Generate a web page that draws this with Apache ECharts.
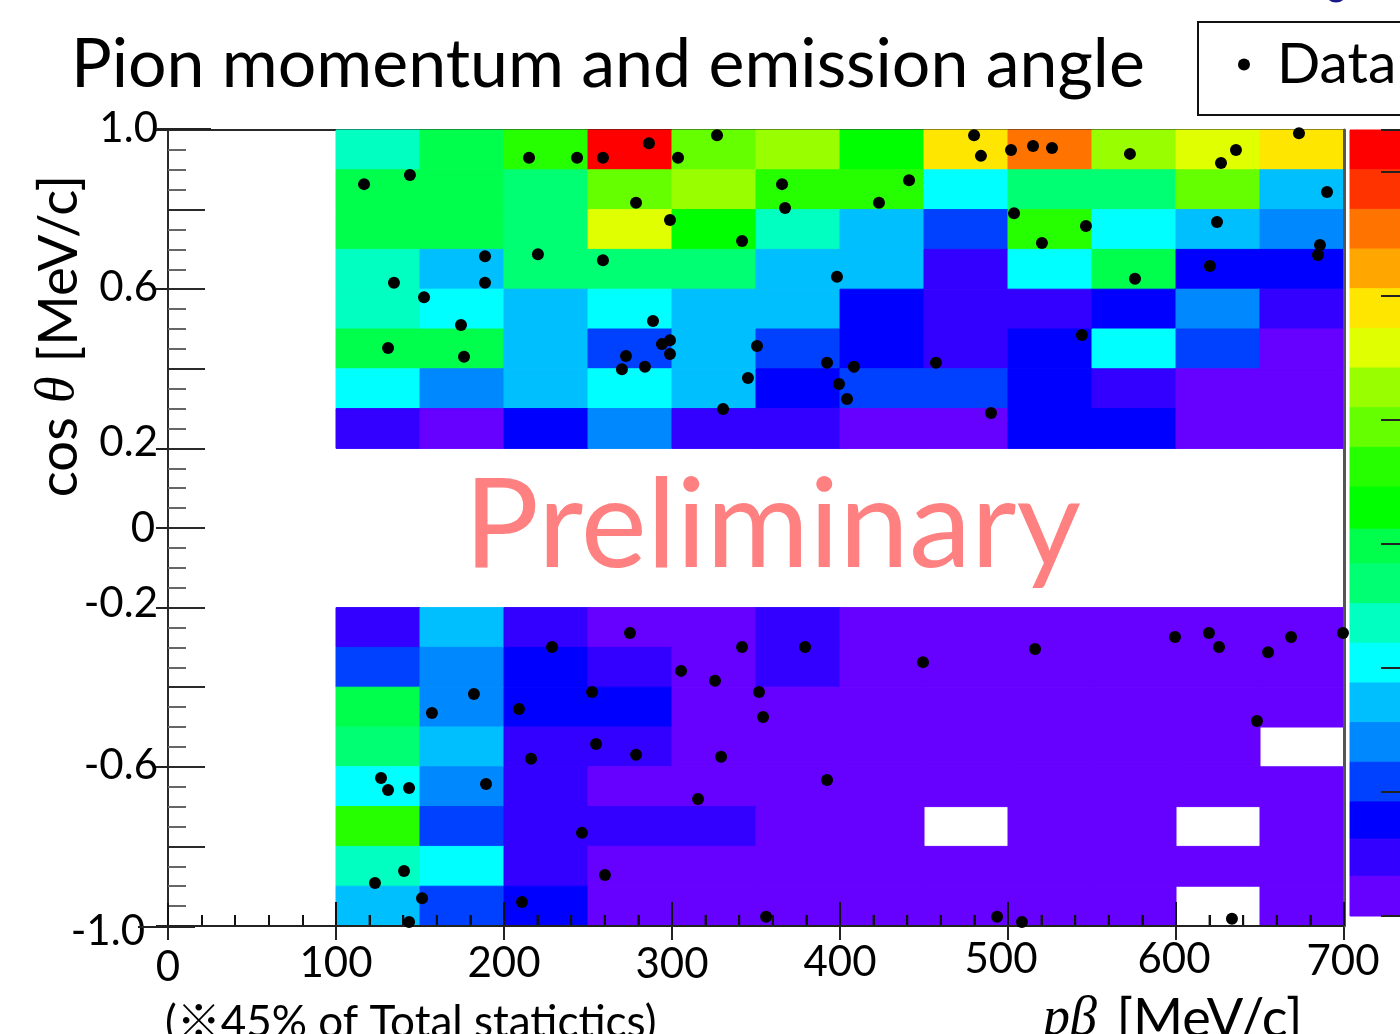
<!DOCTYPE html>
<html>
<head>
<meta charset="utf-8">
<style>html,body{margin:0;padding:0;background:#fff;overflow:hidden}#chart{width:1400px;height:1034px}</style>
<script src="https://cdn.jsdelivr.net/npm/echarts@6/dist/echarts.min.js"></script>
</head>
<body>
<div id="chart"></div>
<script>
const FONT = 'Lato, "Noto Sans CJK JP", sans-serif';
const titleText = 'Pion momentum and emission angle';
const legendName = 'Data';
const watermark = 'Preliminary';
const footnote = '(※45% of Total statictics)';

// Rainbow palette, highest band first
const palette = ['#ff0000','#ff3300','#ff7300','#ffa600','#ffe600','#e0ff00','#99ff00','#66ff00','#26ff00','#00ff00',
                 '#00ff4d','#00ff73','#00ffc0','#00ffff','#00bfff','#0088ff','#0040ff','#0000ff','#3300ff','#6600ff'];
// colour-bar band edges on the z scale, top to bottom
const zEdges = [31.7,30.1,28.5,26.9,25.3,23.7,22.1,20.5,18.9,17.3,15.6,14.2,12.6,11.0,9.4,7.8,6.2,4.6,3.1,1.6,0];

const xEdges = [100,150,200,250,300,350,400,450,500,550,600,650,700];
const yTopEdges = [1.0,0.9,0.8,0.7,0.6,0.5,0.4,0.3,0.2];
const yBottomEdges = [-0.2,-0.3,-0.4,-0.5,-0.6,-0.7,-0.8,-0.9,-1.0];

// Cell values as palette band index; null = empty bin
const topRows = [
  [12,10, 8, 0, 7, 6, 9, 4, 2, 6, 5, 4],
  [10,10,11, 7, 6, 8, 8,13,11,11, 7,14],
  [10,10,11, 5, 9,12,14,16, 8,13,14,15],
  [12,14,11,11,11,14,14,18,13,10,17,17],
  [12,13,14,13,14,14,17,18,18,17,15,18],
  [10,10,14,16,14,16,17,18,17,13,16,19],
  [13,15,14,13,14,17,16,16,17,18,19,19],
  [18,19,17,15,18,18,19,19,17,17,19,19]
];
const bottomRows = [
  [18,14,18,19,19,18,19,19,19,19,19,19],
  [16,15,17,18,19,18,19,19,19,19,19,19],
  [10,15,17,17,19,19,19,19,19,19,19,19],
  [11,14,18,18,19,19,19,19,19,19,19,null],
  [13,15,18,19,19,19,19,19,19,19,19,19],
  [ 8,16,18,18,18,19,19,null,19,19,null,19],
  [12,13,18,19,19,19,19,19,19,19,19,19],
  [14,16,17,19,19,19,19,19,19,19,null,19]
];

const points = [
 [116.7,.864],[144.0,.887],[214.9,.930],[243.5,.930],[258.9,.930],[286.3,.967],[303.6,.930],[326.8,.987],[479.8,.987],[483.9,.935],
 [501.8,.950],[514.9,.960],[526.2,.955],[572.6,.940],[626.8,.917],[635.7,.950],[673.2,.992],[689.9,.844],[365.5,.864],[367.3,.804],
 [423.2,.817],[441.1,.874],[278.6,.817],[298.8,.774],[341.7,.721],[503.6,.791],[520.2,.716],[546.4,.759],[624.4,.769],[685.7,.711],
 [684.5,.686],[188.7,.683],[220.2,.688],[258.9,.673],[134.5,.616],[188.7,.616],[398.2,.631],[575.6,.626],[620.2,.658],[152.4,.580],
 [288.7,.520],[174.4,.510],[298.8,.472],[294.0,.462],[272.6,.432],[298.8,.437],[350.6,.457],[131.0,.452],[176.2,.430],[544.0,.485],
 [392.3,.415],[408.3,.405],[457.1,.415],[270.2,.399],[283.9,.405],[345.2,.377],[399.4,.362],[404.2,.324],[330.4,.299],[489.9,.289],
 [275.0,-.264],[228.6,-.299],[341.7,-.299],[379.2,-.299],[305.4,-.359],[325.6,-.384],[449.4,-.337],[516.1,-.304],[599.4,-.274],[619.6,-.264],
 [625.6,-.299],[654.8,-.312],[668.5,-.274],[699.4,-.264],[182.1,-.417],[157.1,-.465],[252.4,-.412],[208.9,-.455],[351.8,-.412],[354.2,-.475],
 [648.2,-.485],[254.8,-.543],[278.6,-.570],[216.1,-.580],[329.2,-.575],[126.8,-.628],[131.0,-.658],[143.5,-.653],[189.3,-.643],[392.3,-.633],
 [315.5,-.681],[246.4,-.766],[140.5,-.862],[123.2,-.892],[260.1,-.872],[151.2,-.930],[210.7,-.940],[143.5,-.990],[356.0,-.977],[493.5,-.977],
 [508.3,-.990],[633.3,-.982]
];

const xLabelValues = [0,100,200,300,400,500,600,700];
const yLabelValues = [1,0.6,0.2,0,-0.2,-0.6,-1];
const xMinorValues = [120,140,160,180,220,240,260,280,320,340,360,380,420,440,460,480,520,540,560,580,620,640,660,680];
const xMajorValues = [100,200,300,400,500,600,700];

// Build the [x0,x1,y0,y1,band] table
const cells = [];
function addRows(rows, yEdges){
  rows.forEach((row,r)=>row.forEach((band,c)=>{
    if(band!==null) cells.push([xEdges[c],xEdges[c+1],yEdges[r],yEdges[r+1],band]);
  }));
}
addRows(topRows,yTopEdges); addRows(bottomRows,yBottomEdges);
const barCells = palette.map((c,i)=>[0,1,zEdges[i],zEdges[i+1],i]);
const tickRows = xMinorValues.map(v=>[v,11]).concat(xMajorValues.map(v=>[v,24]));

function rectItem(params,api){
  const a=api.coord([api.value(0),api.value(2)]), b=api.coord([api.value(1),api.value(3)]);
  return {type:'rect',shape:{x:a[0],y:a[1],width:b[0]-a[0],height:b[1]-a[1]},
    style:{fill:palette[api.value(4)],stroke:palette[api.value(4)],lineWidth:1}};
}
function tickItem(params,api){
  const p=api.coord([api.value(0),-1]);
  return {type:'line',shape:{x1:p[0],y1:p[1],x2:p[0],y2:p[1]-api.value(1)},style:{stroke:'#111',lineWidth:2}};
}
function baselineItem(params,api){
  const a=api.coord([api.value(0),-1]), b=api.coord([api.value(1),-1]);
  return {type:'line',shape:{x1:a[0],y1:a[1],x2:b[0],y2:b[1]},style:{stroke:'#222',lineWidth:2}};
}

// hand-placed look of the original tick labels
const labelFont={fontFamily:FONT,fontSize:42,color:'#000'};
const xRich={
  x0:{...labelFont,padding:[8,0,0,0]}, x100:{...labelFont,padding:[4,0,0,0]}, x200:{...labelFont,padding:[4,0,0,0]},
  x300:{...labelFont,padding:[5,0,0,0]}, x400:{...labelFont,padding:[3,0,0,0]}, x500:{...labelFont,padding:[0,14,0,0]},
  x600:{...labelFont,padding:[0,4,0,0]}, x700:{...labelFont,padding:[2,2,0,0]}
};
const yRich={
  a:{...labelFont,padding:[0,0,4,0]}, b:{...labelFont,padding:[0,0,4,0]}, c:{...labelFont,padding:[0,0,12,0]},
  d:{...labelFont,padding:[0,3,0,0]}, e:{...labelFont,padding:[0,0,8,0]}, f:{...labelFont,padding:[0,0,2,0]},
  g:{...labelFont,padding:[10,13,0,0]}
};
const yKeys=['a','b','c','d','e','f','g'];

const ink='#2a2a2a';
const plotGrid={left:168,right:56,top:130,height:796};
const chart=echarts.init(document.getElementById('chart'));
chart.setOption({
  animation:false,
  backgroundColor:'#fff',
  textStyle:{fontFamily:FONT},
  title:[
    {text:titleText,left:66,top:26,textStyle:{fontFamily:FONT,fontSize:68,fontWeight:'normal',color:'#000'}},
    {text:watermark,left:459,top:459,textStyle:{fontFamily:FONT,fontSize:125,fontWeight:'normal',color:'#ff8080'}},
    {text:footnote,left:160,top:996,textStyle:{fontFamily:FONT,fontSize:44,fontWeight:'normal',color:'#000'}},
    {text:'{i|pβ} {t|[MeV/c]}',left:1038,top:988,textStyle:{fontWeight:'normal',rich:{
      i:{fontFamily:'"Liberation Serif",serif',fontStyle:'italic',fontWeight:'normal',fontSize:54,color:'#000'},
      t:{fontFamily:FONT,fontWeight:'normal',fontSize:54,color:'#000',padding:[0,0,0,15]}}}}
  ],
  legend:{data:[{name:legendName,icon:'circle'}],left:1238,top:36,itemWidth:12,itemHeight:12,
    selectedMode:false,padding:0,
    textStyle:{fontFamily:FONT,fontSize:57,color:'#000',padding:[0,0,0,22]}},
  grid:[plotGrid,plotGrid,{left:1350,right:0,top:130,height:786}],
  xAxis:[
    {gridIndex:0,type:'value',min:0,max:700,interval:100,position:'bottom',z:5,
      axisLine:{show:true,onZero:false,lineStyle:{color:'#222',width:2}},
      axisTick:{show:true,inside:true,length:23,lineStyle:{color:'#111',width:2}},
      minorTick:{show:true,splitNumber:5,length:11,lineStyle:{color:'#111',width:2}},
      axisLabel:{show:false},splitLine:{show:false}},
    {gridIndex:0,type:'value',min:0,max:700,position:'top',z:-5,
      axisLine:{show:true,onZero:false,lineStyle:{color:ink,width:2}},
      axisTick:{show:false},axisLabel:{show:false},splitLine:{show:false}},
    {gridIndex:1,type:'value',min:0,max:700,interval:100,position:'bottom',z:5,
      axisLine:{show:false,onZero:false},
      axisTick:{show:true,inside:false,length:14,customValues:xLabelValues,lineStyle:{color:'#222',width:2}},
      axisLabel:{show:true,margin:12,customValues:xLabelValues,hideOverlap:false,
        formatter:v=>'{x'+v+'|'+v+'}',rich:xRich},
      splitLine:{show:false}},
    {gridIndex:2,type:'value',min:0,max:1,show:false}
  ],
  yAxis:[
    {gridIndex:0,type:'value',min:-1,max:1,interval:0.2,position:'left',z:5,
      axisLine:{show:true,onZero:false,lineStyle:{color:ink,width:2}},
      axisTick:{show:true,inside:true,length:37,lineStyle:{color:ink,width:2}},
      minorTick:{show:true,splitNumber:4,length:18,lineStyle:{color:'#666',width:2}},
      axisLabel:{show:false},splitLine:{show:false}},
    {gridIndex:0,type:'value',min:-1,max:1,position:'right',zlevel:1,
      axisLine:{show:true,onZero:false,lineStyle:{color:'#555',width:3}},
      axisTick:{show:false},axisLabel:{show:false},splitLine:{show:false}},
    {gridIndex:1,type:'value',min:-1,max:1,interval:0.2,position:'left',z:5,
      axisLine:{show:false,onZero:false},
      axisTick:{show:true,inside:false,length:12,customValues:yLabelValues,lineStyle:{color:'#222',width:2}},
      axisLabel:{show:true,margin:10,customValues:yLabelValues,hideOverlap:false,rich:yRich,
        formatter:v=>{
          const i=yLabelValues.findIndex(t=>Math.abs(t-v)<1e-9);
          return '{'+yKeys[i]+'|'+(Math.abs(v)<1e-9?'0':v.toFixed(1))+'}';
        }},
      splitLine:{show:false}},
    {gridIndex:2,type:'value',min:0,max:31.7,interval:5,position:'right',zlevel:1,
      axisLine:{show:false,onZero:false},
      axisTick:{show:true,inside:true,length:19,lineStyle:{color:'#222',width:2}},
      axisLabel:{show:false},splitLine:{show:false}}
  ],
  series:[
    {type:'custom',name:'counts',xAxisIndex:0,yAxisIndex:0,data:cells,renderItem:rectItem,silent:true,z:-1,
      encode:{x:[0,1],y:[2,3]}},
    {type:'custom',name:'scale',xAxisIndex:3,yAxisIndex:3,data:barCells,renderItem:rectItem,silent:true,z:-1,
      encode:{x:[0,1],y:[2,3]}},
    {type:'custom',name:'xTicks',xAxisIndex:0,yAxisIndex:0,data:tickRows,renderItem:tickItem,silent:true,zlevel:1,clip:false,
      encode:{x:0}},
    {type:'custom',name:'xBase',xAxisIndex:0,yAxisIndex:0,data:[[0,700]],renderItem:baselineItem,silent:true,zlevel:1,clip:false,
      encode:{x:[0,1]}},
    {type:'scatter',name:legendName,xAxisIndex:0,yAxisIndex:0,data:points,symbol:'circle',symbolSize:12,clip:false,zlevel:2,
      itemStyle:{color:'#000',opacity:1}}
  ],
  graphic:[
    {type:'text',x:59,y:336,rotation:Math.PI/2,z:10,style:{
      text:'{a|cos }{b|θ}{a| [MeV/c]}',align:'center',verticalAlign:'middle',
      rich:{a:{fontFamily:FONT,fontSize:54.5,fill:'#000'},
            b:{fontFamily:'"Liberation Serif",serif',fontStyle:'italic',fontSize:54.5,fill:'#000'}}}},
    {type:'polyline',z:10,shape:{points:[[1420,22],[1198,22],[1198,115],[1420,115]]},
      style:{fill:'none',stroke:'#111',lineWidth:2}},
    {type:'arc',z:10,shape:{cx:1336,cy:-9,r:10,startAngle:0,endAngle:Math.PI},
      style:{fill:'none',stroke:'#1a1a8c',lineWidth:3}},
    {type:'line',z:10,shape:{x1:156,y1:129,x2:211,y2:129},style:{stroke:'#222',lineWidth:2}},
    {type:'line',z:10,shape:{x1:138,y1:927,x2:195,y2:927},style:{stroke:'#222',lineWidth:2}}
  ]
});
</script>
</body>
</html>
